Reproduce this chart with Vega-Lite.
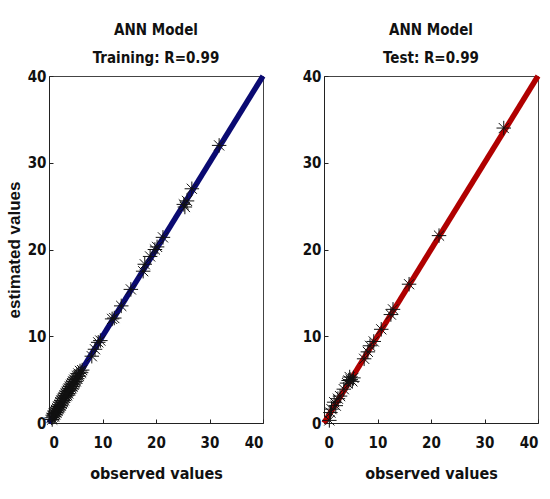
{
  "$schema": "https://vega.github.io/schema/vega-lite/v6.json",
  "background": "white",
  "padding": {"left": 4, "top": 22, "right": 6, "bottom": 8},
  "spacing": 26,
  "datasets": {
    "train": [
      {"obs": 0.5, "est": 0.6}, {"obs": 0.6, "est": 0.4}, {"obs": 0.7, "est": 0.9}, {"obs": 0.8, "est": 0.7},
      {"obs": 0.9, "est": 1.1}, {"obs": 1.0, "est": 0.8}, {"obs": 1.1, "est": 1.3}, {"obs": 1.2, "est": 1.0},
      {"obs": 1.3, "est": 1.5}, {"obs": 1.4, "est": 1.2}, {"obs": 1.5, "est": 1.7}, {"obs": 1.6, "est": 1.4},
      {"obs": 1.7, "est": 1.9}, {"obs": 1.8, "est": 1.6}, {"obs": 1.9, "est": 2.1}, {"obs": 2.0, "est": 1.8},
      {"obs": 2.1, "est": 2.4}, {"obs": 2.2, "est": 2.0}, {"obs": 2.3, "est": 2.6}, {"obs": 2.4, "est": 2.2},
      {"obs": 2.5, "est": 2.8}, {"obs": 2.6, "est": 2.4}, {"obs": 2.7, "est": 3.0}, {"obs": 2.8, "est": 2.6},
      {"obs": 2.9, "est": 3.2}, {"obs": 3.0, "est": 2.9}, {"obs": 3.1, "est": 3.4}, {"obs": 3.2, "est": 3.1},
      {"obs": 3.3, "est": 3.6}, {"obs": 3.4, "est": 3.2}, {"obs": 3.5, "est": 3.8}, {"obs": 3.6, "est": 3.4},
      {"obs": 3.7, "est": 4.0}, {"obs": 3.8, "est": 3.7}, {"obs": 3.9, "est": 4.2}, {"obs": 4.0, "est": 3.8},
      {"obs": 4.1, "est": 4.4}, {"obs": 4.2, "est": 4.0}, {"obs": 4.3, "est": 4.6}, {"obs": 4.4, "est": 4.2},
      {"obs": 4.5, "est": 4.8}, {"obs": 4.6, "est": 4.4}, {"obs": 4.7, "est": 5.0}, {"obs": 4.8, "est": 4.6},
      {"obs": 4.9, "est": 5.2}, {"obs": 5.0, "est": 4.8}, {"obs": 5.2, "est": 5.4}, {"obs": 5.3, "est": 5.1},
      {"obs": 5.5, "est": 5.7}, {"obs": 5.6, "est": 5.4}, {"obs": 5.8, "est": 6.0}, {"obs": 6.0, "est": 5.8},
      {"obs": 6.2, "est": 6.1}, {"obs": 8.0, "est": 7.7}, {"obs": 8.6, "est": 8.5}, {"obs": 9.2, "est": 9.3},
      {"obs": 9.6, "est": 9.5}, {"obs": 11.8, "est": 12.0}, {"obs": 12.2, "est": 12.1}, {"obs": 13.5, "est": 13.5},
      {"obs": 15.3, "est": 15.4}, {"obs": 17.6, "est": 17.5}, {"obs": 17.9, "est": 18.3}, {"obs": 18.9, "est": 19.2},
      {"obs": 19.8, "est": 20.0}, {"obs": 20.2, "est": 20.3}, {"obs": 21.3, "est": 21.4}, {"obs": 25.2, "est": 25.2},
      {"obs": 25.4, "est": 24.9}, {"obs": 25.8, "est": 25.6}, {"obs": 26.7, "est": 27.0}, {"obs": 31.8, "est": 32.0}
    ],
    "test": [
      {"obs": 1.0, "est": 0.3}, {"obs": 1.2, "est": 1.2}, {"obs": 1.4, "est": 1.6}, {"obs": 1.9, "est": 2.4},
      {"obs": 2.2, "est": 2.0}, {"obs": 2.6, "est": 2.8}, {"obs": 3.0, "est": 3.1}, {"obs": 3.7, "est": 3.9},
      {"obs": 4.3, "est": 4.6}, {"obs": 4.6, "est": 4.9}, {"obs": 4.8, "est": 5.3}, {"obs": 5.0, "est": 5.0},
      {"obs": 5.3, "est": 4.8}, {"obs": 5.5, "est": 5.2}, {"obs": 7.5, "est": 7.4}, {"obs": 8.2, "est": 8.2},
      {"obs": 8.6, "est": 8.9}, {"obs": 9.3, "est": 9.4}, {"obs": 10.7, "est": 10.8}, {"obs": 12.5, "est": 12.5},
      {"obs": 12.9, "est": 13.1}, {"obs": 15.9, "est": 16.0}, {"obs": 21.5, "est": 21.6}, {"obs": 33.6, "est": 34.0}
    ],
    "fit": [
      {"obs": 0, "est": 0}, {"obs": 40, "est": 40}
    ]
  },
  "config": {
    "view": {"stroke": "#444", "strokeWidth": 1},
    "axis": {
      "grid": false,
      "domainColor": "#222",
      "tickColor": "#222",
      "tickSize": -4,
      "labelFont": "DejaVu Sans Condensed, Liberation Sans, sans-serif",
      "labelFontWeight": "bold",
      "labelFontSize": 15,
      "labelColor": "#111",
      "titleFont": "DejaVu Sans Condensed, Liberation Sans, sans-serif",
      "titleFontWeight": "bold",
      "titleFontSize": 16,
      "titleColor": "#111"
    },
    "title": {
      "font": "DejaVu Sans Condensed, Liberation Sans, sans-serif",
      "fontWeight": "bold",
      "fontSize": 15,
      "lineHeight": 28,
      "color": "#111",
      "anchor": "middle",
      "offset": -1
    }
  },
  "hconcat": [
    {
      "title": {"text": ["ANN Model", "Training: R=0.99"]},
      "width": 214,
      "height": 347,
      "layer": [
        {
          "data": {"name": "fit"},
          "mark": {"type": "line", "color": "#0a0a72", "strokeWidth": 5.5},
          "encoding": {
            "x": {"field": "obs", "type": "quantitative", "scale": {"domain": [0, 40], "nice": false}, "axis": {"values": [0, 10, 20, 30, 40], "title": "observed values", "labelPadding": 16, "titlePadding": 15}},
            "y": {"field": "est", "type": "quantitative", "scale": {"domain": [0, 40], "nice": false}, "axis": {"values": [0, 10, 20, 30, 40], "title": "estimated values", "labelPadding": 7, "titlePadding": 4, "titleFont": "Liberation Sans", "titleFontSize": 17}}
          }
        },
        {
          "data": {"name": "train"},
          "mark": {"type": "point", "shape": "M-1,0L1,0M0,-1L0,1M-0.7,-0.7L0.7,0.7M-0.7,0.7L0.7,-0.7", "filled": false, "stroke": "#111", "strokeWidth": 1, "size": 210, "opacity": 1},
          "encoding": {
            "x": {"field": "obs", "type": "quantitative"},
            "y": {"field": "est", "type": "quantitative"}
          }
        }
      ]
    },
    {
      "title": {"text": ["ANN Model", "Test: R=0.99"]},
      "width": 214,
      "height": 347,
      "layer": [
        {
          "data": {"name": "fit"},
          "mark": {"type": "line", "color": "#b00000", "strokeWidth": 5.5},
          "encoding": {
            "x": {"field": "obs", "type": "quantitative", "scale": {"domain": [0, 40], "nice": false}, "axis": {"values": [0, 10, 20, 30, 40], "title": "observed values", "labelPadding": 16, "titlePadding": 15}},
            "y": {"field": "est", "type": "quantitative", "scale": {"domain": [0, 40], "nice": false}, "axis": {"values": [0, 10, 20, 30, 40], "title": null, "labelPadding": 7}}
          }
        },
        {
          "data": {"name": "test"},
          "mark": {"type": "point", "shape": "M-1,0L1,0M0,-1L0,1M-0.7,-0.7L0.7,0.7M-0.7,0.7L0.7,-0.7", "filled": false, "stroke": "#111", "strokeWidth": 1, "size": 210, "opacity": 1},
          "encoding": {
            "x": {"field": "obs", "type": "quantitative"},
            "y": {"field": "est", "type": "quantitative"}
          }
        }
      ]
    }
  ]
}
